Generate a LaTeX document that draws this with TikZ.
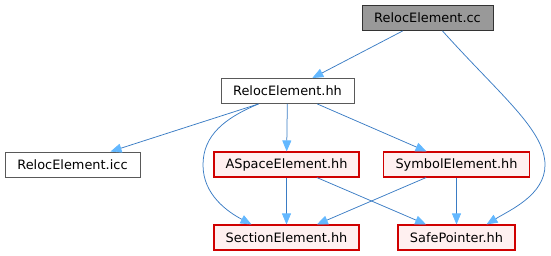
\documentclass[tikz,border=0pt]{standalone}
\usepackage{fontspec}
\setmainfont{DejaVu Sans}
\usetikzlibrary{arrows.meta}
\definecolor{edgeblue}{HTML}{3A7CC4}
\definecolor{tipblue}{HTML}{63B8FF}
\definecolor{hdrfill}{HTML}{FFF0F0}
\definecolor{hdrline}{HTML}{D00000}
\definecolor{curfill}{HTML}{999999}
\tikzset{
  filebox/.style={draw=black!65, fill=white, line width=0.9pt, inner sep=0pt,
    minimum height=25pt, font=\fontsize{12.9}{15}\selectfont},
  curbox/.style={filebox, fill=curfill, draw=black!80},
  hdrbox/.style={filebox, fill=hdrfill, draw=hdrline, line width=1.1pt},
  dep/.style={draw=edgeblue, line width=0.75pt,
    -{Triangle[length=11pt, width=9pt, color=tipblue, fill=tipblue]}},
}
\begin{document}
\begin{tikzpicture}[x=1pt, y=-1pt]
  \useasboundingbox (0,0) rectangle (551,256);
  % files
  \node[curbox, minimum width=131pt] (cc)  at (427.5,18)  {RelocElement.cc};
  \node[filebox, minimum width=133pt] (hh) at (287.5,91)  {RelocElement.hh};
  \node[filebox, minimum width=135pt] (icc) at (72.5,164.5) {RelocElement.icc};
  \node[hdrbox, minimum width=145pt] (asp) at (286.5,164.5) {ASpaceElement.hh};
  \node[hdrbox, minimum width=146pt] (sym) at (456.5,164.5) {SymbolElement.hh};
  \node[hdrbox, minimum width=145pt] (sec) at (286.5,237.5) {SectionElement.hh};
  \node[hdrbox, minimum width=117pt] (sp)  at (456.5,237.5) {SafePointer.hh};
  % include dependencies
  \draw[dep] (cc) -- (hh);
  \draw[dep] ([xshift=15pt]cc.south) .. controls (500,95) and (545,130) .. (545,165)
    .. controls (545,195) and (510,210) .. ([xshift=30pt]sp.north);
  \draw[dep] ([xshift=-29pt]hh.south) -- ([xshift=38pt]icc.north);
  \draw[dep] (hh) -- (asp);
  \draw[dep] (hh) -- (sym);
  \draw[dep] ([xshift=-29pt]hh.south) .. controls (225,118) and (203,135) .. (203,165)
    .. controls (203,195) and (228,212) .. ([xshift=-35pt]sec.north);
  \draw[dep] (asp) -- (sec);
  \draw[dep] (asp) -- (sp);
  \draw[dep] (sym) -- (sec);
  \draw[dep] (sym) -- (sp);
\end{tikzpicture}
\end{document}
